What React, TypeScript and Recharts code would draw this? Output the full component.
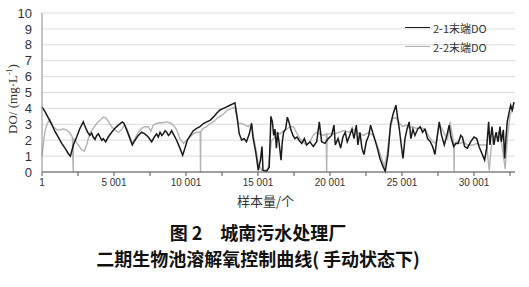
import { LineChart, Line, XAxis, YAxis, CartesianGrid } from "recharts"

// sample index (x) and DO value (mg/L), 2-1 end (black)
const do21Samples = [
  1, 210, 440, 670, 900, 1130, 1370, 1600, 1830, 1970, 2180, 2410, 2640, 2870, 2950, 3170, 3330, 3450, 3560, 3680,
  3800, 3920, 4030, 4150, 4260, 4420, 4600, 4840, 5070, 5300, 5580, 5700, 5880, 6110, 6270, 6460, 6690, 6920, 7150,
  7380, 7620, 7800, 7960, 8080, 8200, 8320, 8430, 8550, 8660, 8780, 8890, 9000, 9120, 9350, 9580, 9770, 9930, 10090,
  10300, 10510, 10740, 10970, 11200, 11440, 11670, 11900,
  12130, 12360, 12600, 12830, 13060, 13290, 13400, 13550, 13700, 13870, 14030, 14200, 14400, 14560, 14650, 14860,
  15020, 15170, 15280, 15350, 15600, 15780, 15900, 16000, 16090, 16180, 16280, 16370, 16460, 16600, 16690, 16780,
  16920, 17040, 17150, 17290, 17430, 17570, 17710, 17850, 18040, 18220, 18380, 18610, 18840, 19080, 19260, 19420,
  19650, 19880, 20110, 20280, 20370, 20560, 20740, 20900, 21060, 21200, 21370, 21530, 21670, 21830, 21940, 22080,
  22220, 22360, 22520, 22690, 22820, 22960, 23100, 23290, 23470, 23680, 23840, 24030, 24210, 24370, 24580, 24700,
  24810, 24950, 25070, 25210, 25350, 25500, 25620, 25760, 25900, 26090, 26270, 26430, 26600, 26780, 26970, 27130,
  27290, 27430, 27590, 27750, 27940, 28120, 28280, 28400, 28590, 28750, 28900, 29080, 29200, 29350, 29540, 29770,
  30000, 30190, 30350, 30580, 30740, 30880, 31020, 31110, 31250, 31390, 31530, 31670, 31810, 31900, 32040, 32130,
  32220, 32310, 32430, 32550, 32660, 32780,
]
const do21Values = [
  4.1, 3.8, 3.4, 3.0, 2.55, 2.2, 1.8, 1.5, 1.15, 1.0, 1.7, 2.2, 2.75, 3.15, 2.95, 2.5, 2.3, 2.45, 2.2, 2.05,
  2.3, 2.4, 2.2, 2.0, 2.1, 1.9, 2.2, 2.5, 2.75, 2.95, 3.15, 3.05, 2.65, 2.1, 1.7, 2.0, 2.3, 2.5, 2.4,
  2.2, 1.9, 2.2, 2.4, 2.2, 2.5, 2.3, 2.4, 2.6, 2.5, 2.3, 2.4, 2.6, 2.4, 2.0, 1.5, 1.05, 1.5, 2.0,
  2.3, 2.6, 2.75, 2.85, 3.05, 3.15, 3.25, 3.45,
  3.7, 3.9, 4.0, 4.1, 4.2, 4.3, 4.35, 3.45, 2.4, 2.0, 2.1, 1.9, 2.4, 3.05, 2.2, 1.15,
  0.1, 0.75, 1.6, 0.1, 0.05, 0.3, 3.5, 3.15, 2.3, 2.7, 1.5, 2.5, 1.9, 0.75, 1.9, 2.5,
  2.7, 3.45, 3.15, 2.65, 2.3, 2.1, 2.2, 2.0, 1.8, 2.1, 1.7, 1.9, 1.6, 1.9, 3.15, 1.9,
  1.8, 2.1, 2.3, 2.95, 1.7, 2.1, 1.5, 2.2, 2.5, 1.9, 2.3, 2.7, 2.1, 2.95, 1.7, 2.5,
  1.5, 1.1, 1.9, 2.3, 2.95, 2.5, 2.1, 1.5, 0.85, 0.35, 0.05, 1.1, 3.0, 3.6, 4.2, 3.4,
  2.75, 1.7, 0.85, 2.1, 2.7, 3.15, 2.1, 2.7, 2.3, 2.7, 2.85, 2.5, 2.7, 2.1, 1.9, 1.6,
  1.1, 2.1, 3.15, 2.3, 1.7, 2.3, 2.95, 2.2, 1.6, 1.8, 1.8, 2.3, 2.2, 1.6, 1.5, 1.9,
  2.2, 2.1, 1.6, 1.1, 0.75, 1.5, 3.15, 1.7, 2.85, 1.7, 2.5, 1.9, 2.85, 1.9, 2.65, 0.85,
  2.1, 3.15, 3.7, 4.2, 3.9, 4.4,
]

// 2-2 end (grey)
const do22Samples = [
  1, 100, 210, 370, 555, 790, 1020, 1250, 1480, 1710, 1940, 2110, 2170, 2180, 2290, 2520, 2750, 2940, 3100, 3330,
  3560, 3800, 4030, 4260, 4420, 4600, 4840, 5070, 5300, 5530, 5720, 5880, 6110, 6270, 6460, 6690, 6920, 7150, 7380,
  7560, 7730, 7960, 8200, 8430, 8660, 8890, 9120, 9350, 9580, 9820, 10050, 10280, 10510, 10740, 10990, 11010, 11030,
  11200, 11440, 11670, 11900, 12130, 12360, 12600, 12830, 13060, 13290, 13400, 13630, 13870, 14100, 14330, 14560,
  14650, 14860, 15020, 15250, 15480, 15700, 15830, 15950, 16100, 16320, 16530, 16780, 17000, 17220, 17450, 17660,
  17900, 18130, 18360, 18600, 18830, 19060, 19290, 19520, 19740, 19770, 19800, 20300, 20630, 20970, 21320, 21670,
  22010, 22360, 22690, 22990, 23270, 23500, 23770, 23960, 24190, 24370, 24600, 24800, 25050, 25280, 25510, 25740,
  25980, 26210, 26440, 26670, 26900, 27130, 27360, 27590, 27780, 27940, 28170, 28330, 28510, 28600, 28620, 28640,
  28800, 29060, 29290, 29520, 29750, 29980, 30210, 30440, 30670, 30900, 30970, 31060, 31190, 31340, 31480, 31710,
  31940, 32170, 32320, 32500, 32730,
]
const do22Values = [
  1.0, 1.8, 2.6, 3.05, 3.3, 2.85, 2.65, 2.65, 2.7, 2.65, 2.45, 2.2, 0, 2.1, 2.0, 1.7, 1.4, 1.3, 1.7, 2.45,
  2.75, 3.05, 3.25, 3.45, 3.4, 3.2, 2.85, 2.65, 2.5, 2.65, 2.95, 2.75, 2.2, 1.8, 2.1, 2.5, 2.75, 2.85, 2.85,
  2.55, 2.95, 3.05, 3.1, 3.1, 3.15, 3.1, 2.95, 2.65, 2.1, 1.8, 2.0, 2.2, 2.4, 2.5, 2.5, 0, 2.55,
  2.75, 2.85, 3.05, 3.15, 3.35, 3.5, 3.65, 3.85, 3.95, 4.05, 4.0, 3.05, 3.05, 2.95, 2.85, 3.05,
  2.4, 1.4, 0.55, 0.1, 0.1, 0.2, 1.2, 2.0, 2.1, 2.5, 2.4, 2.6, 2.7, 2.85, 2.85, 2.5,
  2.1, 1.9, 1.7, 1.9, 2.3, 2.5, 2.4, 2.3, 2.4, 0, 2.4, 2.4, 2.5, 2.6, 2.5, 2.7,
  2.4, 2.3, 2.5, 2.3, 1.7, 1.1, 0.35, 1.1, 2.75, 3.4, 3.4, 3.1, 2.85, 2.95, 2.75, 2.85,
  2.75, 2.75, 2.75, 2.6, 2.2, 1.9, 1.8, 2.95, 2.75, 2.4, 2.1, 3.15, 2.3, 1.7, 0, 1.8,
  1.9, 1.8, 1.9, 1.7, 1.7, 1.7, 1.8, 1.7, 1.7, 1.7, 0.85, 0.1, 1.5, 2.1, 2.3, 2.5,
  1.7, 0.2, 2.1, 3.55, 4.1,
]

const xTicks = [1, 2501, 5001, 7501, 10001, 12501, 15001, 17501, 20001, 22501, 25001, 27501, 30001, 32501]
const yTicks = [0, 1, 2, 3, 4, 5, 6, 7, 8, 9, 10]
const seriesNames = ["2-1末端DO", "2-2末端DO"]
const seriesColors = ["#1a1a1a", "#b3b3b3"]

const do21Data = do21Samples.map((n, i) => ({ n, v: do21Values[i] }))
const do22Data = do22Samples.map((n, i) => ({ n, v: do22Values[i] }))

const fmtX = (v: number) => {
  if ((v - 1) % 5000 !== 0) return ""
  if (v < 1000) return String(v)
  const s = String(v)
  return s.slice(0, s.length - 3) + " " + s.slice(-3)
}

function LegendBox() {
  return (
    <div
      style={{
        position: "absolute",
        left: 405,
        top: 18,
        fontFamily: "'Noto Sans CJK SC', 'Liberation Sans', sans-serif",
        fontSize: 11,
        color: "#333",
      }}
    >
      {seriesNames.map((name, i) => (
        <div key={name} style={{ display: "flex", alignItems: "center", height: 19 }}>
          <span style={{ display: "inline-block", width: 25, height: 1, background: seriesColors[i], marginRight: 3 }} />
          <span>{name}</span>
        </div>
      ))}
    </div>
  )
}

export default function App() {
  return (
    <div style={{ position: "absolute", left: 0, top: 0, width: 529, height: 287, background: "#fff" }}>
      <LineChart width={529} height={215} margin={{ top: 13, right: 14, bottom: 0, left: 0 }}>
        <CartesianGrid horizontal vertical={false} stroke="#dcdcdc" />
        <XAxis
          dataKey="n"
          type="number"
          domain={[1, 32850]}
          ticks={xTicks}
          interval={0}
          tickFormatter={fmtX}
          height={43}
          tickSize={4}
          tickMargin={3}
          stroke="#555"
          tick={{ fill: "#333", fontSize: 10, fontFamily: "'Liberation Sans', sans-serif" }}
          label={{
            content: (props: any) => {
              const vb = props.viewBox
              return (
                <text
                  x={vb.x + vb.width / 2 - 13}
                  y={206}
                  textAnchor="middle"
                  fontSize={13}
                  fill="#333"
                  fontFamily="'Noto Sans CJK SC', sans-serif"
                >
                  样本量/个
                </text>
              )
            },
          }}
        />
        <YAxis
          type="number"
          domain={[0, 10]}
          ticks={yTicks}
          interval={0}
          width={42}
          tickLine={false}
          tickMargin={4}
          stroke="#8c8c8c"
          tick={{ fill: "#333", fontSize: 13, fontFamily: "'Liberation Sans', sans-serif" }}
          label={{
            content: () => (
              <text
                transform="translate(17,99) rotate(-90)"
                textAnchor="middle"
                fontSize={13}
                fill="#333"
                fontFamily="'Liberation Serif', serif"
              >
                DO/ (mg·L
                <tspan dy={-5} fontSize={8}>
                  -1
                </tspan>
                <tspan dy={5}>)</tspan>
              </text>
            ),
          }}
        />
        <Line
          data={do22Data}
          dataKey="v"
          name={seriesNames[1]}
          stroke={seriesColors[1]}
          strokeWidth={1.4}
          dot={false}
          isAnimationActive={false}
        />
        <Line
          data={do21Data}
          dataKey="v"
          name={seriesNames[0]}
          stroke={seriesColors[0]}
          strokeWidth={1.5}
          dot={false}
          isAnimationActive={false}
        />
      </LineChart>
      <LegendBox />
      <div
        style={{
          position: "absolute",
          left: 0,
          top: 219,
          width: 516,
          textAlign: "center",
          fontFamily: "'Noto Sans CJK SC', sans-serif",
          fontWeight: 700,
          fontSize: 18,
          lineHeight: "26px",
          color: "#111",
        }}
      >
        <div>图 2　城南污水处理厂</div>
        <div>二期生物池溶解氧控制曲线( 手动状态下)</div>
      </div>
    </div>
  )
}
